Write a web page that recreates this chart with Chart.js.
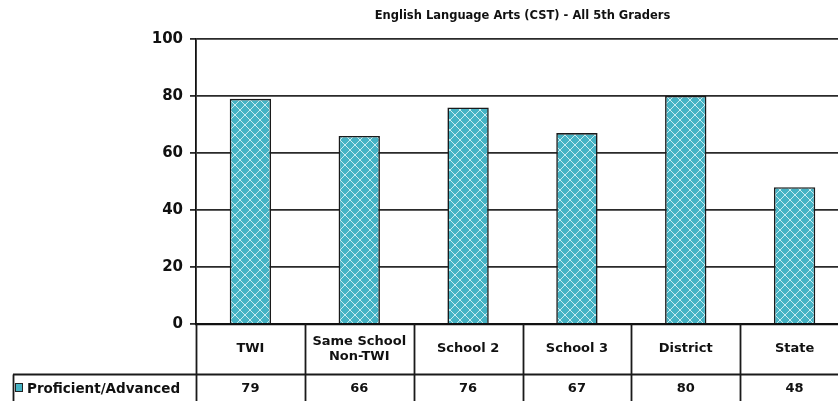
<!DOCTYPE html>
<html>
<head>
<meta charset="utf-8">
<script src="https://cdn.jsdelivr.net/npm/chart.js@4"></script>
<style>
html,body{margin:0;padding:0;background:#fff;overflow:hidden;}
#wrap{width:838px;height:401px;overflow:hidden;position:relative;}
canvas{display:block;}
</style>
</head>
<body>
<div id="wrap"><canvas id="c" width="850" height="401"></canvas></div>
<script>
const titleText = 'English Language Arts (CST) - All 5th Graders';
const categories = ['TWI', 'Same School|Non-TWI', 'School 2', 'School 3', 'District', 'State'];
const proficientAdvanced = [79, 66, 76, 67, 80, 48];
const seriesName = 'Proficient/Advanced';
const yTicks = [0, 20, 40, 60, 80, 100];

const FONT = '"DejaVu Sans", Verdana, sans-serif';
const TEAL = '#45b3c4';

function makePattern() {
  const p = 10;
  const c = document.createElement('canvas');
  c.width = p; c.height = p;
  const g = c.getContext('2d');
  g.fillStyle = TEAL;
  g.fillRect(0, 0, p, p);
  g.strokeStyle = 'rgba(225,245,248,0.85)';
  g.lineWidth = 1.0;
  g.beginPath();
  g.moveTo(0, 0); g.lineTo(p, p);
  g.moveTo(p, 0); g.lineTo(0, p);
  g.stroke();
  return g.createPattern(c, 'repeat');
}

const tablePlugin = {
  id: 'tablePlugin',
  afterDraw(chart) {
    const ctx = chart.ctx;
    const xs = chart.scales.x;
    const area = chart.chartArea;
    const n = categories.length;
    const catW = (area.right - area.left) / n;
    const bottomRow1 = 374.5;
    ctx.save();
    // title
    ctx.fillStyle = '#111';
    ctx.font = 'bold 11.5px ' + FONT;
    ctx.textAlign = 'center';
    ctx.textBaseline = 'middle';
    ctx.fillText(titleText, (area.left + area.right) / 2, 16);

    // table lines
    ctx.strokeStyle = '#1a1a1a';
    ctx.lineWidth = 1.8;
    ctx.beginPath();
    for (let i = 0; i <= n; i++) {
      const x = Math.round(area.left + i * catW) + 0.5;
      ctx.moveTo(x, area.bottom);
      ctx.lineTo(x, 401);
    }
    ctx.moveTo(13, bottomRow1);
    ctx.lineTo(chart.width, bottomRow1);
    ctx.moveTo(13.5, bottomRow1);
    ctx.lineTo(13.5, 401);
    ctx.stroke();

    // category labels
    ctx.font = 'bold 13px ' + FONT;
    ctx.fillStyle = '#111';
    categories.forEach((lab, i) => {
      const x = xs.getPixelForValue(i);
      const lines = lab.split('|');
      const lh = 15;
      const cy = 349;
      lines.forEach((ln, j) => {
        ctx.fillText(ln, x, cy + (j - (lines.length - 1) / 2) * lh);
      });
      ctx.fillText(String(proficientAdvanced[i]), x, 389);
    });

    // legend key + series name
    ctx.fillStyle = TEAL;
    ctx.fillRect(16, 384, 6, 7);
    ctx.lineWidth = 1;
    ctx.strokeStyle = '#222';
    ctx.strokeRect(15.5, 383.5, 7, 8);
    ctx.fillStyle = '#111';
    ctx.textAlign = 'left';
    ctx.font = 'bold 13.5px ' + FONT;
    ctx.fillText(seriesName, 27, 389);
    ctx.restore();
  }
};

const ctx = document.getElementById('c').getContext('2d');
new Chart(ctx, {
  type: 'bar',
  data: {
    labels: categories.map(c => c.replace('|', ' ')),
    datasets: [{
      label: seriesName,
      data: proficientAdvanced,
      backgroundColor: makePattern(),
      borderColor: '#1a1a1a',
      borderWidth: 1.6,
      borderSkipped: 'bottom',
      categoryPercentage: 1.0,
      barPercentage: 0.38
    }]
  },
  options: {
    responsive: false,
    animation: false,
    devicePixelRatio: 1,
    layout: { padding: { top: 39, left: 0, right: 1, bottom: 0 } },
    plugins: {
      legend: { display: false },
      title: { display: false },
      tooltip: { enabled: false }
    },
    scales: {
      x: {
        type: 'category',
        grid: { display: false, drawTicks: false },
        border: { display: true, color: '#111', width: 2.2 },
        ticks: { display: false },
        afterFit(scale) { scale.height = 77; }
      },
      y: {
        min: 0,
        max: 100,
        afterBuildTicks(scale) { scale.ticks = yTicks.map(v => ({ value: v })); },
        grid: { color: '#2a2a2a', lineWidth: 1.8, tickLength: 6, drawTicks: true, tickColor: '#2a2a2a' },
        border: { display: true, color: '#111', width: 1.8 },
        ticks: {
          color: '#111',
          font: { family: FONT, size: 15, weight: 'bold' },
          padding: 7
        },
        afterFit(scale) { scale.width = 196; }
      }
    }
  },
  plugins: [tablePlugin]
});
</script>
</body>
</html>
